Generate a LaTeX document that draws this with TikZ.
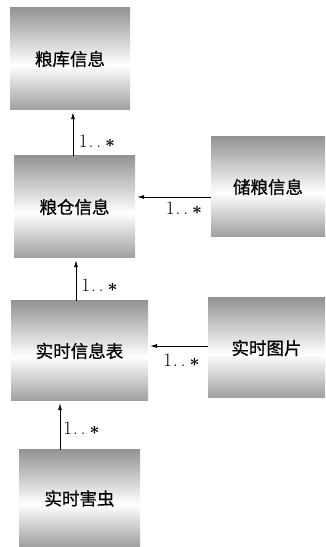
\documentclass[tikz,border=0pt]{standalone}
\usepackage{fontspec}
\newfontfamily\cjk[FakeBold=0.6]{Noto Sans CJK SC}
\usetikzlibrary{arrows.meta}
\definecolor{edgegray}{gray}{0.58}
\definecolor{edgegrayb}{gray}{0.62}
\pgfdeclareverticalshading{boxshade}{100bp}{color(0bp)=(edgegrayb);color(25bp)=(edgegrayb);color(47bp)=(white);color(75bp)=(edgegray);color(100bp)=(edgegray)}
\tikzset{
  cls/.style={shading=boxshade, inner sep=0pt, font=\cjk\fontsize{17.5}{20}\selectfont},
  arr/.style={line width=0.8pt, -{Latex[length=7pt,width=4pt]}, shorten >=2pt},
  mult/.style={font=\fontsize{19}{22}\selectfont, inner sep=0pt}
}
\newcommand{\mlt}{1\hspace{1pt}.\hspace{3pt}.\hspace{4pt}{\boldmath$\ast$}}
\begin{document}
\begin{tikzpicture}[x=1pt,y=1pt]
\useasboundingbox (0,0) rectangle (325,547);
\node[cls, minimum width=120pt, minimum height=102pt] (b1) at (70,488) {粮库信息};
\node[cls, minimum width=121pt, minimum height=102pt] (b2) at (74.5,340) {粮仓信息};
\node[cls, minimum width=114pt, minimum height=100pt] (b3) at (268,360) {储粮信息};
\node[cls, minimum width=137pt, minimum height=100pt] (b4) at (79.5,196) {实时信息表};
\node[cls, minimum width=117pt, minimum height=100pt] (b5) at (266.5,199) {实时图片};
\node[cls, minimum width=121pt, minimum height=97pt] (b6) at (79.5,48.5) {实时害虫};
\draw[arr] ([xshift=-1.5pt]b2.north) -- ([xshift=3pt]b1.south);
\draw[arr] ([yshift=-10pt]b3.west) -- ([yshift=10pt]b2.east);
\draw[arr] ([xshift=-3.5pt]b4.north) -- ([xshift=1.5pt]b2.south);
\draw[arr] ([yshift=2pt]b5.west) -- ([yshift=5pt]b4.east);
\draw[arr] ([xshift=-19.5pt]b6.north) -- ([xshift=-19.5pt]b4.south);
\node[mult] (m1) at (97,406) {\mlt};
\node[mult] (m2) at (184,339) {\mlt};
\node[mult] (m3) at (99.5,262) {\mlt};
\node[mult] (m4) at (181.5,187) {\mlt};
\node[mult] (m5) at (81.5,119) {\mlt};
\end{tikzpicture}
\end{document}
